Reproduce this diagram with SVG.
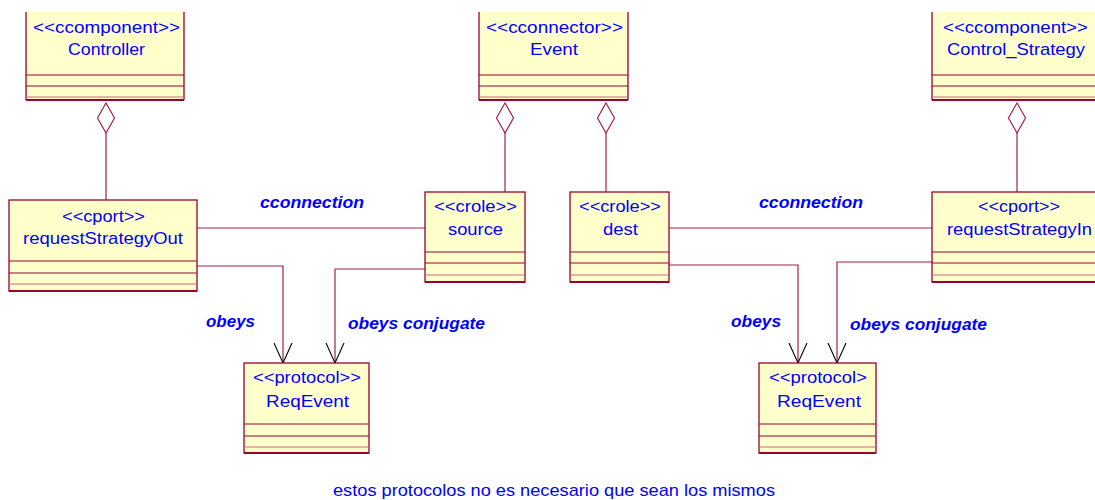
<svg xmlns="http://www.w3.org/2000/svg" width="1095" height="500" viewBox="0 0 1095 500">
  <style>
    .fill { fill: #FFFFCC; stroke: none; }
    .edge { fill: none; stroke: #990033; stroke-width: 1.3; }
    .sep { stroke: #990033; stroke-width: 1.2; }
    .sep-light { stroke: #CC6680; stroke-width: 1.2; }
    .base { stroke: #990033; stroke-width: 2; }
    .name { font-family: "Liberation Sans", Arial, sans-serif; font-size: 17px; fill: #0000FF; }
    .label { font-family: "Liberation Sans", Arial, sans-serif; font-size: 16.5px; font-weight: bold; font-style: italic; fill: #0000FF; }
    .note { font-family: "Liberation Sans", Arial, sans-serif; font-size: 17px; fill: #0000FF; }
    .link { fill: none; stroke: #A3204C; stroke-width: 1.2; }
    .diamond { fill: #FFFFFF; stroke: #A3204C; stroke-width: 1.2; }
  </style>
  <defs>
    <marker id="open-arrow" markerUnits="userSpaceOnUse" markerWidth="24" markerHeight="22" viewBox="-22 -11 24 22" refX="0" refY="0" orient="auto">
      <path d="M-20,-9 L0,0 L-20,9" fill="none" stroke="#000000" stroke-width="1.1"/>
    </marker>
  </defs>
  <rect width="1095" height="500" fill="#FFFFFF"/>

  <!-- connectors -->
  <g id="connectors">
    <!-- aggregation: classes own their roles/ports -->
    <line class="link" x1="106" y1="133" x2="106" y2="200"/>
    <polygon class="diamond" points="106,103 114.5,118 106,133 97.5,118"/>
    <line class="link" x1="505" y1="133" x2="505" y2="192"/>
    <polygon class="diamond" points="505,103 513.5,118 505,133 496.5,118"/>
    <line class="link" x1="606" y1="133" x2="606" y2="192"/>
    <polygon class="diamond" points="606,103 614.5,118 606,133 597.5,118"/>
    <line class="link" x1="1017" y1="133" x2="1017" y2="192"/>
    <polygon class="diamond" points="1017,103 1025.5,118 1017,133 1008.5,118"/>

    <!-- cconnection links -->
    <line class="link" x1="197" y1="228" x2="425" y2="228"/>
    <line class="link" x1="669" y1="228" x2="932" y2="228"/>

    <!-- obeys / obeys conjugate -->
    <polyline class="link" points="197,266 283,266 283,363" marker-end="url(#open-arrow)"/>
    <polyline class="link" points="425,269 335,269 335,363" marker-end="url(#open-arrow)"/>
    <polyline class="link" points="669,265 798,265 798,363" marker-end="url(#open-arrow)"/>
    <polyline class="link" points="932,262 837,262 837,363" marker-end="url(#open-arrow)"/>

    <text class="label" x="260" y="208" textLength="104" lengthAdjust="spacingAndGlyphs">cconnection</text>
    <text class="label" x="759" y="208" textLength="104" lengthAdjust="spacingAndGlyphs">cconnection</text>
    <text class="label" x="206" y="327" textLength="49" lengthAdjust="spacingAndGlyphs">obeys</text>
    <text class="label" x="348" y="329" textLength="137" lengthAdjust="spacingAndGlyphs">obeys conjugate</text>
    <text class="label" x="731" y="327" textLength="50" lengthAdjust="spacingAndGlyphs">obeys</text>
    <text class="label" x="850" y="330" textLength="137" lengthAdjust="spacingAndGlyphs">obeys conjugate</text>
  </g>

  <!-- Controller -->
  <g id="controller">
    <rect class="fill" x="26" y="12" width="158" height="88"/>
    <path class="edge" d="M26,12 V100 M184,12 V100"/>
    <line class="sep" x1="26" y1="75" x2="184" y2="75"/>
    <line class="sep" x1="26" y1="86" x2="184" y2="86"/>
    <line class="sep-light" x1="26" y1="97" x2="184" y2="97"/>
    <line class="base" x1="26" y1="100" x2="184" y2="100"/>
    <text class="name" x="33" y="33" textLength="147" lengthAdjust="spacingAndGlyphs">&lt;&lt;ccomponent&gt;&gt;</text>
    <text class="name" x="68" y="55" textLength="77" lengthAdjust="spacingAndGlyphs">Controller</text>
  </g>

  <!-- Event -->
  <g id="event">
    <rect class="fill" x="479" y="12" width="149" height="88"/>
    <path class="edge" d="M479,12 V100 M628,12 V100"/>
    <line class="sep" x1="479" y1="75" x2="628" y2="75"/>
    <line class="sep" x1="479" y1="86" x2="628" y2="86"/>
    <line class="sep-light" x1="479" y1="97" x2="628" y2="97"/>
    <line class="base" x1="479" y1="100" x2="628" y2="100"/>
    <text class="name" x="486" y="33" textLength="137" lengthAdjust="spacingAndGlyphs">&lt;&lt;cconnector&gt;&gt;</text>
    <text class="name" x="530" y="55" textLength="48" lengthAdjust="spacingAndGlyphs">Event</text>
  </g>

  <!-- Control_Strategy -->
  <g id="control-strategy">
    <rect class="fill" x="932" y="12" width="170" height="88"/>
    <path class="edge" d="M932,12 V100"/>
    <line class="sep" x1="932" y1="75" x2="1102" y2="75"/>
    <line class="sep" x1="932" y1="86" x2="1102" y2="86"/>
    <line class="sep-light" x1="932" y1="97" x2="1102" y2="97"/>
    <line class="base" x1="932" y1="100" x2="1102" y2="100"/>
    <text class="name" x="943" y="33" textLength="145" lengthAdjust="spacingAndGlyphs">&lt;&lt;ccomponent&gt;&gt;</text>
    <text class="name" x="947" y="55" textLength="138" lengthAdjust="spacingAndGlyphs">Control_Strategy</text>
  </g>

  <!-- requestStrategyOut -->
  <g id="request-strategy-out">
    <rect class="fill" x="9" y="200" width="188" height="91"/>
    <rect class="edge" x="9" y="200" width="188" height="91"/>
    <line class="sep" x1="9" y1="261" x2="197" y2="261"/>
    <line class="sep" x1="9" y1="273" x2="197" y2="273"/>
    <line class="sep-light" x1="9" y1="284" x2="197" y2="284"/>
    <line class="base" x1="9" y1="291" x2="197" y2="291"/>
    <text class="name" x="62" y="222" textLength="83" lengthAdjust="spacingAndGlyphs">&lt;&lt;cport&gt;&gt;</text>
    <text class="name" x="23" y="244" textLength="160" lengthAdjust="spacingAndGlyphs">requestStrategyOut</text>
  </g>

  <!-- source -->
  <g id="source">
    <rect class="fill" x="425" y="192" width="100" height="90"/>
    <rect class="edge" x="425" y="192" width="100" height="90"/>
    <line class="sep" x1="425" y1="252" x2="525" y2="252"/>
    <line class="sep" x1="425" y1="263" x2="525" y2="263"/>
    <line class="sep-light" x1="425" y1="275" x2="525" y2="275"/>
    <line class="base" x1="425" y1="282" x2="525" y2="282"/>
    <text class="name" x="434" y="212" textLength="83" lengthAdjust="spacingAndGlyphs">&lt;&lt;crole&gt;&gt;</text>
    <text class="name" x="448" y="235" textLength="55" lengthAdjust="spacingAndGlyphs">source</text>
  </g>

  <!-- dest -->
  <g id="dest">
    <rect class="fill" x="570" y="192" width="99" height="90"/>
    <rect class="edge" x="570" y="192" width="99" height="90"/>
    <line class="sep" x1="570" y1="252" x2="669" y2="252"/>
    <line class="sep" x1="570" y1="263" x2="669" y2="263"/>
    <line class="sep-light" x1="570" y1="275" x2="669" y2="275"/>
    <line class="base" x1="570" y1="282" x2="669" y2="282"/>
    <text class="name" x="579" y="212" textLength="82" lengthAdjust="spacingAndGlyphs">&lt;&lt;crole&gt;&gt;</text>
    <text class="name" x="603" y="235" textLength="35" lengthAdjust="spacingAndGlyphs">dest</text>
  </g>

  <!-- requestStrategyIn -->
  <g id="request-strategy-in">
    <rect class="fill" x="932" y="192" width="170" height="90"/>
    <rect class="edge" x="932" y="192" width="170" height="90"/>
    <line class="sep" x1="932" y1="252" x2="1102" y2="252"/>
    <line class="sep" x1="932" y1="263" x2="1102" y2="263"/>
    <line class="sep-light" x1="932" y1="275" x2="1102" y2="275"/>
    <line class="base" x1="932" y1="282" x2="1102" y2="282"/>
    <text class="name" x="978" y="212" textLength="82" lengthAdjust="spacingAndGlyphs">&lt;&lt;cport&gt;&gt;</text>
    <text class="name" x="947" y="235" textLength="145" lengthAdjust="spacingAndGlyphs">requestStrategyIn</text>
  </g>

  <!-- ReqEvent (left) -->
  <g id="req-event-left">
    <rect class="fill" x="244" y="363" width="125" height="90"/>
    <rect class="edge" x="244" y="363" width="125" height="90"/>
    <line class="sep" x1="244" y1="424" x2="369" y2="424"/>
    <line class="sep" x1="244" y1="436" x2="369" y2="436"/>
    <line class="sep-light" x1="244" y1="447" x2="369" y2="447"/>
    <line class="base" x1="244" y1="453" x2="369" y2="453"/>
    <text class="name" x="253" y="383" textLength="108" lengthAdjust="spacingAndGlyphs">&lt;&lt;protocol&gt;&gt;</text>
    <text class="name" x="266" y="407" textLength="83" lengthAdjust="spacingAndGlyphs">ReqEvent</text>
  </g>

  <!-- ReqEvent (right) -->
  <g id="req-event-right">
    <rect class="fill" x="759" y="363" width="117" height="90"/>
    <rect class="edge" x="759" y="363" width="117" height="90"/>
    <line class="sep" x1="759" y1="424" x2="876" y2="424"/>
    <line class="sep" x1="759" y1="436" x2="876" y2="436"/>
    <line class="sep-light" x1="759" y1="447" x2="876" y2="447"/>
    <line class="base" x1="759" y1="453" x2="876" y2="453"/>
    <text class="name" x="769" y="383" textLength="98" lengthAdjust="spacingAndGlyphs">&lt;&lt;protocol&gt;</text>
    <text class="name" x="777" y="407" textLength="84" lengthAdjust="spacingAndGlyphs">ReqEvent</text>
  </g>

  <!-- note -->
  <text class="note" x="333" y="496" textLength="442" lengthAdjust="spacingAndGlyphs">estos protocolos no es necesario que sean los mismos</text>
</svg>
